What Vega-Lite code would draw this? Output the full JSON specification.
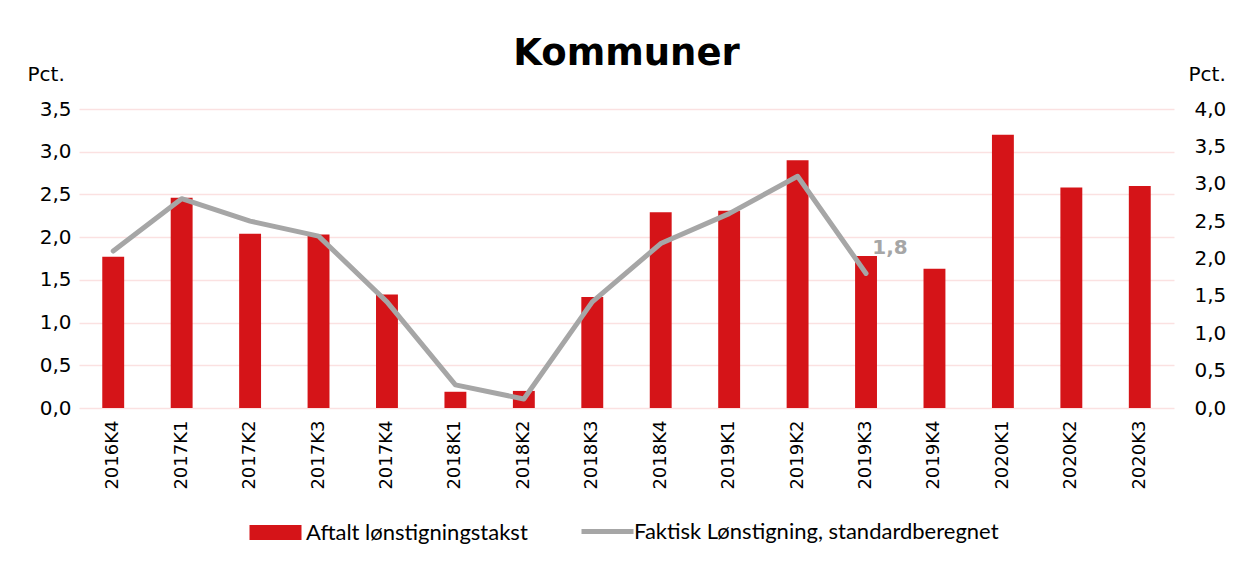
{
  "$schema": "https://vega.github.io/schema/vega-lite/v6.json",
  "width": 1095,
  "height": 299,
  "autosize": {"type": "none"},
  "padding": {"left": 79, "top": 109, "right": 60, "bottom": 157},
  "background": "white",
  "config": {
    "view": {"stroke": null},
    "font": "DejaVu Sans",
    "locale": {"number": {"decimal": ",", "thousands": ".", "grouping": [3], "currency": ["", " kr"]}}
  },
  "title": {
    "text": "Kommuner",
    "font": "DejaVu Sans",
    "fontSize": 37,
    "fontWeight": "bold",
    "color": "#000000",
    "anchor": "middle",
    "frame": "group",
    "baseline": "alphabetic",
    "offset": -38
  },
  "data": {
    "values": [
      {"periode": "2016K4", "aftalt": 1.77, "faktisk": 2.1},
      {"periode": "2017K1", "aftalt": 2.46, "faktisk": 2.8},
      {"periode": "2017K2", "aftalt": 2.04, "faktisk": 2.5},
      {"periode": "2017K3", "aftalt": 2.03, "faktisk": 2.3},
      {"periode": "2017K4", "aftalt": 1.33, "faktisk": 1.42},
      {"periode": "2018K1", "aftalt": 0.19, "faktisk": 0.31},
      {"periode": "2018K2", "aftalt": 0.2, "faktisk": 0.12},
      {"periode": "2018K3", "aftalt": 1.3, "faktisk": 1.42},
      {"periode": "2018K4", "aftalt": 2.29, "faktisk": 2.2},
      {"periode": "2019K1", "aftalt": 2.31, "faktisk": 2.6},
      {"periode": "2019K2", "aftalt": 2.9, "faktisk": 3.1},
      {"periode": "2019K3", "aftalt": 1.78, "faktisk": 1.8},
      {"periode": "2019K4", "aftalt": 1.63, "faktisk": null},
      {"periode": "2020K1", "aftalt": 3.2, "faktisk": null},
      {"periode": "2020K2", "aftalt": 2.58, "faktisk": null},
      {"periode": "2020K3", "aftalt": 2.6, "faktisk": null}
    ]
  },
  "encoding": {
    "x": {
      "field": "periode",
      "type": "nominal",
      "sort": null,
      "scale": {"paddingInner": 0.68, "paddingOuter": 0.34},
      "axis": {
        "title": null,
        "labelAngle": -90,
        "labelAlign": "right",
        "labelBaseline": "middle",
        "labelFont": "DejaVu Sans",
        "labelFontSize": 18,
        "labelColor": "#000000",
        "labelPadding": 12,
        "ticks": false,
        "domain": false,
        "grid": false
      }
    }
  },
  "layer": [
    {
      "mark": {"type": "bar"},
      "encoding": {
        "y": {
          "field": "aftalt",
          "type": "quantitative",
          "scale": {"domain": [0, 3.5], "nice": false},
          "axis": {
            "orient": "left",
            "values": [0, 0.5, 1, 1.5, 2, 2.5, 3, 3.5],
            "format": ".1f",
            "title": "Pct.",
            "titleAngle": 0,
            "titleAlign": "left",
            "titleBaseline": "alphabetic",
            "titleX": -52,
            "titleY": -29,
            "titleFont": "DejaVu Sans",
            "titleFontSize": 20,
            "titleFontWeight": "normal",
            "titleColor": "#000000",
            "labelFont": "DejaVu Sans",
            "labelFontSize": 20,
            "labelColor": "#000000",
            "labelPadding": 8,
            "ticks": false,
            "domain": false,
            "grid": true,
            "gridColor": "#fbe1e1",
            "gridWidth": 1.5
          }
        },
        "fill": {
          "datum": "Aftalt lønstigningstakst",
          "scale": {"range": ["#d51418"]},
          "legend": {
            "orient": "none",
            "legendX": 163,
            "legendY": 390,
            "title": null,
            "symbolType": "stroke",
            "symbolSize": 2704,
            "symbolStrokeWidth": 15,
            "symbolStrokeColor": "#d51418",
            "labelFont": "Lato",
            "labelFontSize": 22,
            "labelColor": "#000000",
            "labelOffset": -3,
            "labelLimit": 600
          }
        }
      }
    },
    {
      "transform": [{"filter": "isValid(datum.faktisk)"}],
      "mark": {"type": "line", "strokeWidth": 5, "strokeJoin": "round", "strokeCap": "round"},
      "encoding": {
        "y": {
          "field": "faktisk",
          "type": "quantitative",
          "scale": {"domain": [0, 4], "nice": false},
          "axis": {
            "orient": "right",
            "values": [0, 0.5, 1, 1.5, 2, 2.5, 3, 3.5, 4],
            "format": ".1f",
            "title": "Pct.",
            "titleAngle": 0,
            "titleAlign": "left",
            "titleBaseline": "alphabetic",
            "titleX": 14,
            "titleY": -29,
            "titleFont": "DejaVu Sans",
            "titleFontSize": 20,
            "titleFontWeight": "normal",
            "titleColor": "#000000",
            "labelFont": "DejaVu Sans",
            "labelFontSize": 20,
            "labelColor": "#000000",
            "labelPadding": 20,
            "ticks": false,
            "domain": false,
            "grid": false
          }
        },
        "stroke": {
          "datum": "Faktisk Lønstigning, standardberegnet",
          "scale": {"range": ["#a6a6a6"]},
          "legend": {
            "orient": "none",
            "legendX": 500,
            "legendY": 394,
            "title": null,
            "symbolType": "stroke",
            "symbolSize": 2704,
            "symbolStrokeWidth": 5,
            "labelFont": "Lato",
            "labelFontSize": 22,
            "labelColor": "#000000",
            "labelOffset": -2,
            "labelLimit": 600
          }
        }
      }
    },
    {
      "transform": [{"filter": "datum.periode == '2019K3'"}],
      "mark": {"type": "text", "font": "DejaVu Sans", "fontWeight": "bold", "fontSize": 20, "color": "#a6a6a6", "dx": 24, "dy": -25, "align": "center", "baseline": "middle"},
      "encoding": {
        "y": {"field": "faktisk", "type": "quantitative", "scale": {"domain": [0, 4], "nice": false}, "axis": null},
        "text": {"field": "faktisk", "type": "quantitative", "format": ".1f"}
      }
    }
  ],
  "resolve": {"scale": {"y": "independent", "fill": "independent", "stroke": "independent"}}
}
